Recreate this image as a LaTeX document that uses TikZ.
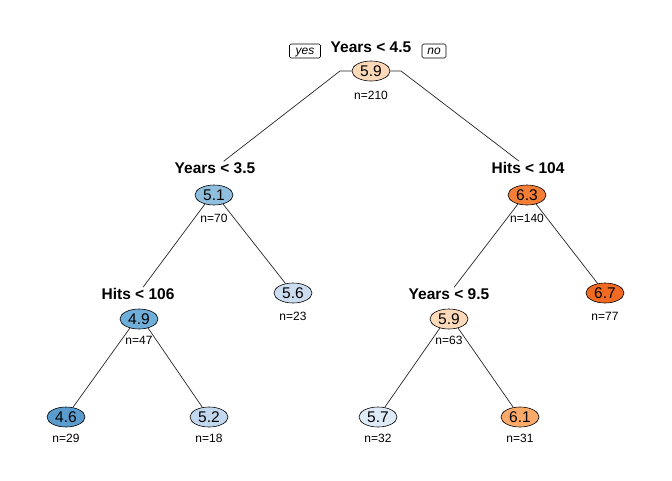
\documentclass[tikz,border=0pt]{standalone}
\usepackage{fontspec}
\setmainfont{Liberation Sans}
\usepackage{tikz}
\usetikzlibrary{shapes.geometric}
\definecolor{treeBlueA}{HTML}{5A9CCD}
\definecolor{treeBlueB}{HTML}{6FAED8}
\definecolor{treeBlueC}{HTML}{8FBFDD}
\definecolor{treeBlueD}{HTML}{C2D8EE}
\definecolor{treeBlueE}{HTML}{CCDDF0}
\definecolor{treeBlueF}{HTML}{DEEAF6}
\definecolor{treeOrangeA}{HTML}{FCD9B8}
\definecolor{treeOrangeB}{HTML}{FBAA6A}
\definecolor{treeOrangeC}{HTML}{F47E36}
\definecolor{treeOrangeD}{HTML}{F06A24}
\tikzset{
  tree/split/.style = {font=\fontsize{15.5}{18}\selectfont\bfseries, inner sep=1pt},
  tree/value/.style = {ellipse, draw=black, line width=0.6pt, minimum width=38pt,
                       minimum height=20pt, inner sep=0pt, font=\fontsize{15.5}{18}\selectfont},
  tree/count/.style = {font=\fontsize{12}{14}\selectfont, inner sep=1pt},
  tree/tag/.style   = {draw=black, line width=0.6pt, rounded corners=1.5pt, inner xsep=2pt,
                       inner ysep=1.5pt, text height=8.5pt, text depth=2.5pt,
                       minimum width=31pt, font=\fontsize{12}{13}\selectfont\itshape},
  tree/edge/.style  = {draw=black!85, line width=0.7pt},
}
\begin{document}
\begin{tikzpicture}[x=1pt, y=-1pt]
  \useasboundingbox (0,0) rectangle (672,480);
  % root
  \node[tree/split] (s1) at (371,47) {Years < 4.5};
  \node[tree/value, fill=treeOrangeA] (v1) at (371,71) {5.9};
  \node[tree/count] (n1) at (371,95) {n=210};
  \node[tree/tag] (yes) at (305,51) {yes};
  \node[tree/tag, minimum width=24pt] (no) at (434,51) {no};
  \coordinate (v1l) at (340,71);
  \coordinate (v1r) at (401,71);
  % second level
  \node[tree/split] (s2) at (215,168) {Years < 3.5};
  \node[tree/value, fill=treeBlueC] (v2) at (214,195) {5.1};
  \node[tree/count] (n2) at (214,218) {n=70};
  \node[tree/split] (s3) at (528,168) {Hits < 104};
  \node[tree/value, fill=treeOrangeC] (v3) at (527,195) {6.3};
  \node[tree/count] (n3) at (527,218) {n=140};
  % third level
  \node[tree/split] (s4) at (138,294) {Hits < 106};
  \node[tree/value, fill=treeBlueB] (v4) at (139,319) {4.9};
  \node[tree/count] (n4) at (139,340) {n=47};
  \node[tree/value, fill=treeBlueE] (v5) at (293,293) {5.6};
  \node[tree/count] (n5) at (293,316) {n=23};
  \node[tree/split] (s6) at (449,294) {Years < 9.5};
  \node[tree/value, fill=treeOrangeA] (v6) at (449,319) {5.9};
  \node[tree/count] (n6) at (449,340) {n=63};
  \node[tree/value, fill=treeOrangeD] (v7) at (605,293) {6.7};
  \node[tree/count] (n7) at (605,316) {n=77};
  % leaves
  \node[tree/value, fill=treeBlueA] (v8) at (66,417) {4.6};
  \node[tree/count] (n8) at (66,438) {n=29};
  \node[tree/value, fill=treeBlueD] (v9) at (209,417) {5.2};
  \node[tree/count] (n9) at (209,438) {n=18};
  \node[tree/value, fill=treeBlueF] (v10) at (378,417) {5.7};
  \node[tree/count] (n10) at (378,438) {n=32};
  \node[tree/value, fill=treeOrangeB] (v11) at (520,417) {6.1};
  \node[tree/count] (n11) at (520,438) {n=31};
  % branches
  \draw[tree/edge] (v1.west) -- (v1l) -- (s2);
  \draw[tree/edge] (v1.east) -- (v1r) -- (s3);
  \draw[tree/edge] (v2.225) -- (s4);
  \draw[tree/edge] (v2.315) -- (v5);
  \draw[tree/edge] (v3.225) -- (s6);
  \draw[tree/edge] (v3.315) -- (v7);
  \draw[tree/edge] (v4.225) -- (v8);
  \draw[tree/edge] (v4.315) -- (v9);
  \draw[tree/edge] (v6.225) -- (v10);
  \draw[tree/edge] (v6.315) -- (v11);
\end{tikzpicture}
\end{document}
